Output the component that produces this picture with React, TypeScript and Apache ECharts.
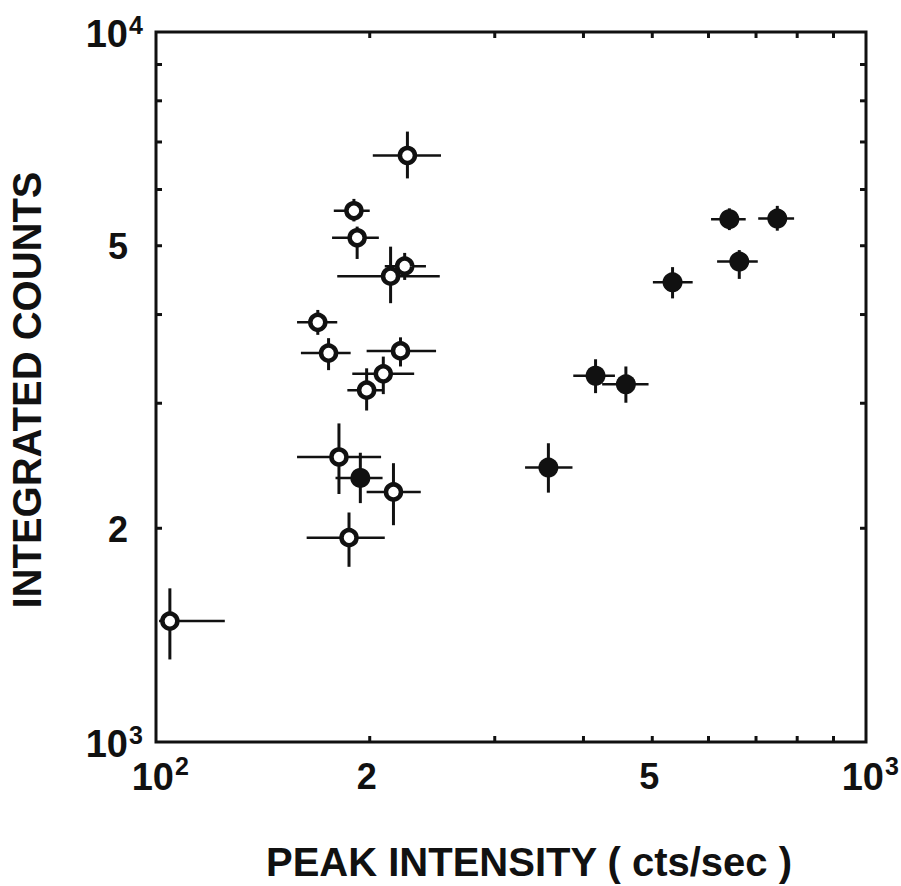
import React, { useEffect, useRef } from "react";
import * as echarts from "echarts";

// [peak, counts, peakLow, peakHigh, countsLow, countsHigh]
const openSources: number[][] = [
  [226, 6700, 202, 252, 6220, 7240],
  [190, 5600, 178, 200, 5410, 5820],
  [192, 5130, 177, 206, 4790, 5320],
  [224, 4680, 210, 240, 4475, 4885],
  [214, 4530, 180, 251, 4150, 4985],
  [169, 3900, 158, 180, 3745, 4060],
  [175, 3530, 160, 188, 3340, 3705],
  [221, 3555, 198, 248, 3380, 3715],
  [209, 3300, 189, 231, 3090, 3490],
  [198, 3130, 186, 208.5, 2930, 3360],
  [181, 2520, 158, 207.5, 2235, 2810],
  [216, 2250, 198, 236, 2020, 2470],
  [187, 1940, 163, 210, 1765, 2105],
  [104.6, 1480, 101, 125, 1307, 1646],
];

const filledSources: number[][] = [
  [194, 2355, 179, 208.5, 2170, 2555],
  [642, 5450, 605, 677, 5260, 5645],
  [750, 5460, 705, 792, 5250, 5690],
  [663, 4750, 617, 704, 4490, 4930],
  [534, 4440, 501, 570, 4215, 4665],
  [416, 3280, 387, 443, 3100, 3460],
  [459, 3190, 425, 494, 3005, 3380],
  [357, 2435, 331, 386, 2245, 2635],
];

const xMinorTicks = [200, 300, 400, 500, 600, 700, 800, 900];
const yMinorTicks = [2000, 3000, 4000, 5000, 6000, 7000, 8000, 9000];
const xTickLabels = [
  { v: 100, t: "10", sup: "2" },
  { v: 200, t: "2", sup: "" },
  { v: 500, t: "5", sup: "" },
  { v: 1000, t: "10", sup: "3" },
];
const yTickLabels = [
  { v: 1000, t: "10", sup: "3" },
  { v: 2000, t: "2", sup: "" },
  { v: 5000, t: "5", sup: "" },
  { v: 10000, t: "10", sup: "4" },
];

const X_MIN = 100, X_MAX = 1000, Y_MIN = 1000, Y_MAX = 10000;
const INK = "#111";
const FONT = "Liberation Sans, Arial, sans-serif";
const W = "bold";

export default function App() {
  const ref = useRef<HTMLDivElement>(null);
  useEffect(() => {
    if (!ref.current) return;
    const chart = echarts.init(ref.current, null, { renderer: "svg" });

    const errorRender = (params: any, api: any) => {
      const x = api.value(0), y = api.value(1);
      const l = api.coord([api.value(2), y]);
      const r = api.coord([api.value(3), y]);
      const b = api.coord([x, api.value(4)]);
      const t = api.coord([x, api.value(5)]);
      return {
        type: "group",
        children: [
          { type: "line", shape: { x1: l[0], y1: l[1], x2: r[0], y2: r[1] }, style: { stroke: INK, lineWidth: 2.5 } },
          { type: "line", shape: { x1: b[0], y1: b[1], x2: t[0], y2: t[1] }, style: { stroke: INK, lineWidth: 3 } },
        ],
      };
    };

    const decorRender = (params: any, api: any) => {
      const children: any[] = [];
      const T = 6;
      xMinorTicks.forEach((v) => {
        const pb = api.coord([v, Y_MIN]);
        const pt = api.coord([v, Y_MAX]);
        children.push({ type: "line", shape: { x1: pb[0], y1: pb[1], x2: pb[0], y2: pb[1] - T }, style: { stroke: INK, lineWidth: 3 } });
        children.push({ type: "line", shape: { x1: pt[0], y1: pt[1], x2: pt[0], y2: pt[1] + T }, style: { stroke: INK, lineWidth: 3 } });
      });
      yMinorTicks.forEach((v) => {
        const pl = api.coord([X_MIN, v]);
        const pr = api.coord([X_MAX, v]);
        children.push({ type: "line", shape: { x1: pl[0], y1: pl[1], x2: pl[0] + T, y2: pl[1] }, style: { stroke: INK, lineWidth: 3 } });
        children.push({ type: "line", shape: { x1: pr[0], y1: pr[1], x2: pr[0] - T, y2: pr[1] }, style: { stroke: INK, lineWidth: 3 } });
      });
      xTickLabels.forEach((lab) => {
        const p = api.coord([lab.v, Y_MIN]);
        if (lab.sup) {
          children.push({ type: "text", x: p[0] + 18, y: p[1] + 16, style: { text: lab.t, fontSize: 38, fontWeight: W, fontFamily: FONT, fill: INK, align: "right", verticalAlign: "top" } });
          children.push({ type: "text", x: p[0] + 19, y: p[1] + 11, style: { text: lab.sup, fontSize: 25, fontWeight: W, fontFamily: FONT, fill: INK, align: "left", verticalAlign: "top" } });
        } else {
          children.push({ type: "text", x: p[0] - 3, y: p[1] + 16, style: { text: lab.t, fontSize: 36, fontWeight: W, fontFamily: FONT, fill: INK, align: "center", verticalAlign: "top" } });
        }
      });
      yTickLabels.forEach((lab) => {
        const p = api.coord([X_MIN, lab.v]);
        const isPow = !!lab.sup;
        children.push({ type: "text", x: p[0] - 28, y: p[1] + (isPow ? 2 : 1), style: { text: lab.t, fontSize: isPow ? 38 : 36, fontWeight: W, fontFamily: FONT, fill: INK, align: "right", verticalAlign: "middle" } });
        if (isPow) {
          children.push({ type: "text", x: p[0] - 27, y: p[1] - 20, style: { text: lab.sup, fontSize: 25, fontWeight: W, fontFamily: FONT, fill: INK, align: "left", verticalAlign: "top" } });
        }
      });
      return { type: "group", children };
    };

    chart.setOption({
      animation: false,
      backgroundColor: "#fff",
      grid: { left: 156, top: 32, width: 710, height: 710, show: true, borderColor: INK, borderWidth: 3, backgroundColor: "transparent" },
      xAxis: {
        type: "log", logBase: 10, min: X_MIN, max: X_MAX,
        axisLine: { show: false }, axisTick: { show: false }, axisLabel: { show: false }, splitLine: { show: false },
      },
      yAxis: {
        type: "log", logBase: 10, min: Y_MIN, max: Y_MAX,
        axisLine: { show: false }, axisTick: { show: false }, axisLabel: { show: false }, splitLine: { show: false },
      },
      graphic: [
        { type: "text", x: 27, y: 390, rotation: Math.PI / 2, style: { text: "INTEGRATED COUNTS", fontSize: 40, fontWeight: W, fontFamily: FONT, fill: INK, align: "center", verticalAlign: "middle" } },
        { type: "text", x: 529, y: 862, style: { text: "PEAK INTENSITY ( cts/sec )", fontSize: 40, fontWeight: W, fontFamily: FONT, fill: INK, align: "center", verticalAlign: "middle" } },
      ],
      series: [
        { type: "custom", name: "decor", data: [[X_MIN, Y_MIN]], renderItem: decorRender, silent: true, z: 1 },
        { type: "custom", name: "openErr", data: openSources, encode: { x: [0, 2, 3], y: [1, 4, 5] }, renderItem: errorRender, silent: true, z: 2 },
        { type: "custom", name: "filledErr", data: filledSources, encode: { x: [0, 2, 3], y: [1, 4, 5] }, renderItem: errorRender, silent: true, z: 2 },
        {
          type: "scatter", name: "open", data: openSources.map((d) => [d[0], d[1]]), symbol: "circle", symbolSize: 15,
          itemStyle: { color: "#fff", borderColor: INK, borderWidth: 4.5, opacity: 1 }, z: 3,
        },
        {
          type: "scatter", name: "filled", data: filledSources.map((d) => [d[0], d[1]]), symbol: "circle", symbolSize: 20,
          itemStyle: { color: INK, opacity: 1 }, z: 3,
        },
      ],
    });
    return () => chart.dispose();
  }, []);
  return <div ref={ref} style={{ width: 901, height: 886, position: "absolute", left: 0, top: 0 }} />;
}
